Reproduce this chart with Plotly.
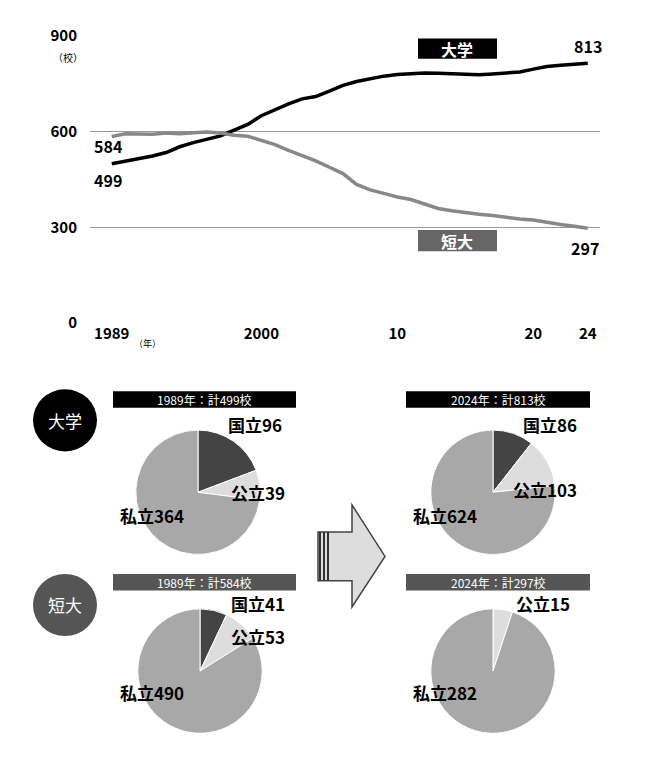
import plotly.graph_objects as go

OFF = 8  # browser body margin
W, H = 661 - 2 * OFF, 759 - 2 * OFF
FONT = "Noto Sans CJK JP"

years = list(range(1989, 2025))
univ = [499, 507, 514, 523, 534, 552, 565, 576, 586, 604, 622, 649, 669, 686, 702, 709, 726, 744,
        756, 765, 773, 778, 780, 783, 782, 781, 779, 777, 780, 782, 786, 795, 803, 807, 810, 813]
junior = [584, 593, 592, 591, 595, 593, 596, 598, 595, 588, 585, 572, 559, 541, 525, 508, 488, 468,
          434, 417, 406, 395, 387, 372, 359, 352, 346, 341, 337, 331, 326, 323, 315, 309, 303, 297]

pie_labels = ["国立", "公立", "私立"]
univ_1989 = [96, 39, 364]
univ_2024 = [86, 103, 624]
junior_1989 = [41, 53, 490]
junior_2024 = [0, 15, 282]
pie_colors = ["#444444", "#dddddd", "#a8a8a8"]


def px(x):
    return (x - OFF) / W


def py(y):
    return 1 - (y - OFF) / H


fig = go.Figure()
fig.add_trace(go.Scatter(x=years, y=univ, mode="lines", line=dict(color="black", width=3.5),
                         showlegend=False, hoverinfo="skip"))
fig.add_trace(go.Scatter(x=years, y=junior, mode="lines", line=dict(color="#888888", width=3.5),
                         showlegend=False, hoverinfo="skip"))

# pies
pies = [(univ_1989, 198, 494), (univ_2024, 493, 494), (junior_1989, 200, 678), (junior_2024, 493, 678)]
r = 64
for vals, cx, cy in pies:
    fig.add_trace(go.Pie(values=vals, labels=pie_labels, sort=False, direction="clockwise", rotation=0,
                         marker=dict(colors=pie_colors, line=dict(color="white", width=1)),
                         textinfo="none", showlegend=False,
                         domain=dict(x=[px(cx - r), px(cx + r)], y=[py(cy + r), py(cy - r)])))

fig.update_layout(
    width=W, height=H, margin=dict(l=0, r=0, t=0, b=0),
    plot_bgcolor="white", paper_bgcolor="white",
    font=dict(family=FONT, color="black"),
    xaxis=dict(domain=[px(90), px(600)], range=[1987.4, 2024.9], showgrid=False, zeroline=False,
               tickvals=[1989, 2000, 2010, 2020, 2024], ticktext=["1989", "2000", "10", "20", "24"],
               tickfont=dict(size=15, family=FONT, weight="bold"), ticks=""),
    yaxis=dict(domain=[py(320), py(24)], range=[0, 900], tickvals=[0, 300, 600, 900],
               gridcolor="#999999", gridwidth=1, zeroline=False, ticks="", ticklabelstandoff=12,
               tickfont=dict(size=15, family=FONT, weight="bold")),
)

ann = []


def text(x, y, s, size=17, color="black", bold=True, anchor="center"):
    ann.append(dict(x=px(x), y=py(y), xref="paper", yref="paper", text=f"<b>{s}</b>" if bold else s,
                    showarrow=False, xanchor=anchor, yanchor="middle",
                    font=dict(size=size, color=color, family=FONT)))


text(68, 47, "（校）", size=10, bold=False)
text(147, 341, "（年）", size=9, bold=False)
text(108, 138, "584", 16)
text(108, 173, "499", 16)
text(588, 35, "813", 16)
text(585, 243, "297", 16)

shapes = []
# series label boxes
shapes.append(dict(type="rect", xref="paper", yref="paper", x0=px(418), x1=px(497), y0=py(48), y1=py(27),
                   fillcolor="black", line_width=0))
text(457, 38, "大学", 16, "white")
shapes.append(dict(type="rect", xref="paper", yref="paper", x0=px(418), x1=px(497), y0=py(246), y1=py(224),
                   fillcolor="#666666", line_width=0))
text(457, 235, "短大", 16, "white")

# pie header bars
for x0, x1, y0, y1, col, s in [(113, 296, 390, 407, "black", "1989年：計499校"),
                                (406, 590, 390, 407, "black", "2024年：計813校"),
                                (113, 296, 578, 595, "#555555", "1989年：計584校"),
                                (406, 590, 578, 595, "#555555", "2024年：計297校")]:
    shapes.append(dict(type="rect", xref="paper", yref="paper", x0=px(x0), x1=px(x1), y0=py(y1), y1=py(y0),
                       fillcolor=col, line_width=0))
    text((x0 + x1) / 2, (y0 + y1) / 2, s, 12, "white", bold=False)

# category circles
for cy, col, s in [(420, "black", "大学"), (610, "#555555", "短大")]:
    shapes.append(dict(type="circle", xref="paper", yref="paper", x0=px(33), x1=px(97), y0=py(cy + 32),
                       y1=py(cy - 32), fillcolor=col, line_width=0))
    text(65, cy, s, 17, "white", bold=False)

# arrow
pts = [(318, 535), (352, 535), (352, 507), (385, 560), (352, 612), (352, 585), (318, 585)]
path = "M " + " L ".join(f"{px(x)},{py(y)}" for x, y in pts) + " Z"
shapes.append(dict(type="path", xref="paper", yref="paper", path=path, fillcolor="#dddddd",
                   line=dict(color="#444444", width=1.5)))
for x in (320, 324, 328):
    shapes.append(dict(type="line", xref="paper", yref="paper", x0=px(x), x1=px(x), y0=py(585), y1=py(535),
                       line=dict(color="#333333", width=2)))

# pie labels
for x, y, s in [(255, 424, "国立96"), (258, 494, "公立39"), (152, 518, "私立364"),
                (550, 424, "国立86"), (545, 491, "公立103"), (445, 518, "私立624"),
                (258, 608, "国立41"), (258, 642, "公立53"), (152, 700, "私立490"),
                (543, 608, "公立15"), (445, 700, "私立282")]:
    text(x, y, s, 17)

fig.update_layout(annotations=ann, shapes=shapes)
fig.write_html("out.html")
